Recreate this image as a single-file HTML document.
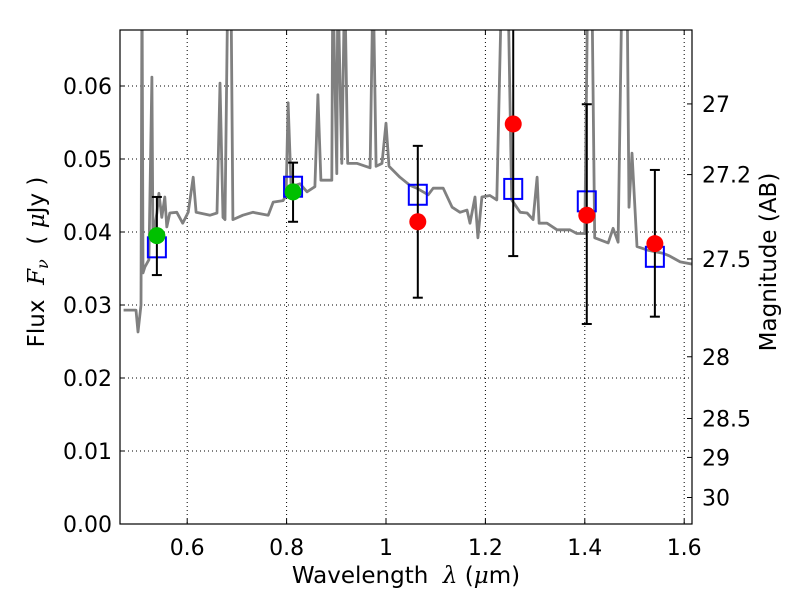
<!DOCTYPE html>
<html><head><meta charset="utf-8"><style>
html,body{margin:0;padding:0;background:#fff;}
svg{display:block;font-family:"DejaVu Sans","Liberation Sans",sans-serif;}
</style></head><body>
<svg id="chart" width="800" height="600" viewBox="0 0 800 600" xmlns="http://www.w3.org/2000/svg"></svg>
<script>
const specLam=[0.472,0.497,0.501,0.507,0.509,0.511,0.515,0.523,0.529,0.531,0.539,0.543,0.549,0.555,0.559,0.565,0.579,0.591,0.602,0.612,0.618,0.646,0.660,0.666,0.672,0.676,0.682,0.688,0.692,0.712,0.732,0.763,0.773,0.793,0.799,0.803,0.809,0.827,0.841,0.857,0.863,0.869,0.891,0.893,0.901,0.903,0.911,0.917,0.923,0.942,0.968,0.974,0.980,0.992,1.0,1.006,1.028,1.048,1.062,1.085,1.095,1.115,1.133,1.149,1.163,1.169,1.179,1.185,1.193,1.209,1.223,1.233,1.245,1.253,1.263,1.270,1.284,1.296,1.304,1.308,1.324,1.344,1.370,1.384,1.400,1.406,1.414,1.420,1.447,1.457,1.467,1.475,1.485,1.489,1.495,1.505,1.527,1.557,1.571,1.592,1.616];
const specFlux=[0.0293,0.0293,0.0263,0.030,0.075,0.0344,0.0352,0.0362,0.0612,0.0393,0.0426,0.0453,0.042,0.0448,0.0407,0.0426,0.0427,0.0412,0.0427,0.0475,0.0427,0.0423,0.0426,0.0604,0.042,0.0417,0.075,0.075,0.0417,0.0423,0.0427,0.0423,0.0441,0.0443,0.045,0.0577,0.0462,0.0466,0.0455,0.0462,0.0588,0.0471,0.0471,0.075,0.048,0.075,0.0494,0.075,0.0494,0.0494,0.0488,0.075,0.049,0.0494,0.0549,0.049,0.0475,0.0464,0.046,0.0451,0.046,0.046,0.0434,0.0427,0.043,0.0412,0.0448,0.0392,0.0448,0.0450,0.0444,0.075,0.075,0.0444,0.0434,0.0427,0.0426,0.0417,0.0475,0.0412,0.0412,0.0403,0.0403,0.0398,0.0398,0.075,0.075,0.0392,0.0385,0.0405,0.0386,0.075,0.075,0.0434,0.0508,0.038,0.0375,0.0371,0.0367,0.0359,0.0356];
const obsLam=[0.539,0.813,1.064,1.256,1.404,1.541];
const obsFlux=[0.0395,0.0455,0.0414,0.0548,0.0423,0.0384];
const obsErrLo=[0.0341,0.0414,0.031,0.0367,0.0274,0.0284];
const obsErrHi=[0.0448,0.0495,0.0518,0.0729,0.0575,0.0485];
const obsDetected=[true,true,false,false,false,false];
const modelFlux=[0.0379,0.0462,0.0451,0.0459,0.0442,0.0366];
const xTicks=[0.6,0.8,1.0,1.2,1.4,1.6];
const xTickLabels=["0.6","0.8","1","1.2","1.4","1.6"];
const yTicks=[0,0.01,0.02,0.03,0.04,0.05,0.06];
const yTickLabels=["0.00","0.01","0.02","0.03","0.04","0.05","0.06"];
const magTicks=[27,27.2,27.5,28,28.5,29,30];
const magTickLabels=["27","27.2","27.5","28","28.5","29","30"];

const L=120,R=692,T=30,B=524;
const xMin=0.4648,xMax=1.6157,yMin=0,yMax=0.06767;
const X=v=>L+(v-xMin)/(xMax-xMin)*(R-L);
const Y=v=>B-(v-yMin)/(yMax-yMin)*(B-T);
const magToFlux=m=>Math.pow(10,(23.9-m)/2.5);
const svg=document.getElementById('chart');
const NS='http://www.w3.org/2000/svg';
function mk(tag,attrs,parent){const e=document.createElementNS(NS,tag);for(const k in attrs)e.setAttribute(k,attrs[k]);(parent||svg).appendChild(e);return e;}

const defs=mk('defs',{});
const cp=mk('clipPath',{id:'clip'},defs);
mk('rect',{x:L,y:T,width:R-L,height:B-T},cp);

const grid=mk('g',{});


xTicks.forEach(t=>{mk('line',{x1:X(t),x2:X(t),y1:T,y2:B,stroke:'#000','stroke-width':1,'stroke-dasharray':'1,3'},grid);});
yTicks.forEach(t=>{mk('line',{x1:L,x2:R,y1:Y(t),y2:Y(t),stroke:'#000','stroke-width':1,'stroke-dasharray':'1,3'},grid);});

const plot=mk('g',{'clip-path':'url(#clip)'});
let d='';
specLam.forEach((l,i)=>{d+=(i?'L':'M')+X(l).toFixed(1)+','+Y(specFlux[i]).toFixed(1);});
const sp=mk('path',{d:d,fill:'none',stroke:'#808080','stroke-width':2.8,'stroke-linejoin':'round'},plot);



obsLam.forEach((l,i)=>{
  const s=mk('rect',{x:X(l)-9,y:Y(modelFlux[i])-10,width:18,height:20,fill:'none',stroke:'#0000ff','stroke-width':2},plot);
  
  
});
obsLam.forEach((l,i)=>{
  const g=mk('g',{},plot);
  
  
  const x=X(l);
  mk('line',{x1:x,x2:x,y1:Y(obsErrLo[i]),y2:Y(obsErrHi[i]),stroke:'#000','stroke-width':2},g);
  mk('line',{x1:x-5,x2:x+5,y1:Y(obsErrLo[i]),y2:Y(obsErrLo[i]),stroke:'#000','stroke-width':2},g);
  mk('line',{x1:x-5,x2:x+5,y1:Y(obsErrHi[i]),y2:Y(obsErrHi[i]),stroke:'#000','stroke-width':2},g);
  mk('circle',{cx:x,cy:Y(obsFlux[i]),r:8.5,fill:obsDetected[i]?'#00c000':'#ff0000'},g);
});

const fr=mk('rect',{x:L,y:T,width:R-L,height:B-T,fill:'none',stroke:'#000','stroke-width':1.2});



xTicks.forEach((t,i)=>{
  mk('line',{x1:X(t),x2:X(t),y1:B,y2:B-5,stroke:'#000'});
  mk('line',{x1:X(t),x2:X(t),y1:T,y2:T+5,stroke:'#000'});
  const tx=mk('text',{x:X(t),y:B+31,'font-size':22,'text-anchor':'middle'});
  tx.textContent=xTickLabels[i];
  
  
});
yTicks.forEach((t,i)=>{
  mk('line',{x1:L,x2:L+5,y1:Y(t),y2:Y(t),stroke:'#000'});
  const tx=mk('text',{x:L-8,y:Y(t)+8,'font-size':22,'text-anchor':'end'});
  tx.textContent=yTickLabels[i];
  
  
});
magTicks.forEach((m,i)=>{
  const y=Y(magToFlux(m));
  mk('line',{x1:R,x2:R-5,y1:y,y2:y,stroke:'#000'});
  const tx=mk('text',{x:R+10,y:y+8,'font-size':22,'text-anchor':'start'});
  tx.textContent=magTickLabels[i];
  
  
});
</script>
<svg style="position:absolute;left:0;top:0" width="800" height="600">
<text x="406" y="583" font-size="23" text-anchor="middle" font-family="DejaVu Sans, Liberation Sans, sans-serif" xml:space="preserve">Wavelength  <tspan font-family="DejaVu Serif, Liberation Serif, serif" font-style="italic">λ</tspan> (<tspan font-family="DejaVu Serif, Liberation Serif, serif" font-style="italic">μ</tspan>m)</text>
<text transform="translate(44,262) rotate(-90)" font-size="23" text-anchor="middle" font-family="DejaVu Sans, Liberation Sans, sans-serif" xml:space="preserve">Flux  <tspan font-family="DejaVu Serif, Liberation Serif, serif" font-style="italic">F</tspan><tspan font-family="DejaVu Serif, Liberation Serif, serif" font-style="italic" font-size="16" dy="4">ν</tspan><tspan dy="-4">  ( </tspan><tspan font-family="DejaVu Serif, Liberation Serif, serif" font-style="italic">μ</tspan>Jy )</text>
<text transform="translate(776,262) rotate(-90)" font-size="23" text-anchor="middle" font-family="DejaVu Sans, Liberation Sans, sans-serif">Magnitude (AB)</text>
</svg>
</body></html>
